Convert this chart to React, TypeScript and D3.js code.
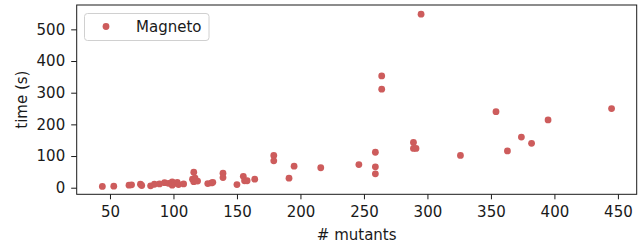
import React, { useEffect, useRef } from "react";
import * as d3 from "d3";

// # mutants per run
const mutants = [44, 53, 65, 67, 74, 75, 82, 85, 89, 93, 96, 99, 99, 101, 103, 104, 108,
  116, 115, 116, 119, 117, 127, 130, 131, 139, 139, 150, 155, 156, 158, 164,
  179, 179, 191, 195, 216, 246, 259, 259, 259, 264, 264, 295, 289, 289, 291,
  326, 354, 363, 374, 382, 395, 445];
// time (s) per run
const times = [4, 5, 8, 9, 11, 7, 6, 11, 12, 16, 14, 18, 8, 14, 17, 10, 12,
  49, 27, 19, 21, 30, 13, 15, 17, 46, 32, 10, 36, 22, 22, 27,
  102, 85, 30, 68, 63, 73, 112, 66, 44, 353, 311, 548, 143, 124, 124,
  102, 240, 116, 160, 140, 214, 250];
const xTicks = [50, 100, 150, 200, 250, 300, 350, 400, 450];
const yTicks = [0, 100, 200, 300, 400, 500];
const seriesName = "Magneto";

export default function App() {
  const node = useRef<SVGSVGElement | null>(null);

  useEffect(() => {
    const W = 644, H = 246;
    const margin = { top: 5, right: 7.3, bottom: 51.7, left: 76.7 };
    const font = "DejaVu Sans, sans-serif";
    const fontSize = "15px";
    const ink = "#1a1a1a";
    const dotColor = "#CD5C5C";

    const svg = d3.select(node.current);
    svg.selectAll("*").remove();

    const x = d3.scaleLinear().domain([23.8, 464.8]).range([margin.left, W - margin.right]);
    const y = d3.scaleLinear().domain([-20.8, 576.9]).range([H - margin.bottom, margin.top]);

    const data = mutants.map((m, i) => ({ m, t: times[i] }));

    // points
    svg.append("g")
      .selectAll("circle")
      .data(data)
      .enter().append("circle")
      .attr("cx", d => x(d.m))
      .attr("cy", d => y(d.t))
      .attr("r", 3.4)
      .attr("fill", dotColor);

    // axes
    const xAxis = svg.append("g")
      .attr("transform", "translate(0," + (H - margin.bottom) + ")")
      .call(d3.axisBottom(x).tickValues(xTicks).tickSize(5).tickPadding(7).tickSizeOuter(0));
    const yAxis = svg.append("g")
      .attr("transform", "translate(" + margin.left + ",0)")
      .call(d3.axisLeft(y).tickValues(yTicks).tickSize(5.5).tickPadding(6).tickSizeOuter(0));
    [xAxis, yAxis].forEach(a => {
      a.select(".domain").remove();
      a.selectAll("line").attr("stroke", ink).attr("stroke-width", 1);
      a.selectAll("text").attr("fill", ink).style("font-family", font).style("font-size", fontSize);
    });

    // frame
    svg.append("rect")
      .attr("x", margin.left)
      .attr("y", margin.top)
      .attr("width", W - margin.left - margin.right)
      .attr("height", H - margin.top - margin.bottom)
      .attr("fill", "none")
      .attr("stroke", ink)
      .attr("stroke-width", 1);

    // axis labels
    svg.append("text")
      .attr("x", (margin.left + W - margin.right) / 2)
      .attr("y", 240)
      .attr("text-anchor", "middle")
      .attr("fill", ink)
      .style("font-family", font)
      .style("font-size", fontSize)
      .text("# mutants");
    svg.append("text")
      .attr("transform", "translate(26.5," + (margin.top + (H - margin.top - margin.bottom) / 2) + ") rotate(-90)")
      .attr("text-anchor", "middle")
      .attr("fill", ink)
      .style("font-family", font)
      .style("font-size", fontSize)
      .text("time (s)");

    // legend
    const lg = svg.append("g");
    lg.append("rect")
      .attr("x", 84.5).attr("y", 13.5)
      .attr("width", 124.5).attr("height", 27)
      .attr("rx", 3)
      .attr("fill", "white").attr("fill-opacity", 0.8)
      .attr("stroke", "#d0d0d0");
    lg.append("circle").attr("cx", 106).attr("cy", 26.5).attr("r", 3.4).attr("fill", dotColor);
    lg.append("text")
      .attr("x", 136).attr("y", 31.5)
      .attr("fill", ink)
      .style("font-family", font)
      .style("font-size", fontSize)
      .text(seriesName);
  }, []);

  return (
    <svg ref={node} width={644} height={246}
      style={{ position: "absolute", left: 0, top: 0, background: "white" }} />
  );
}
